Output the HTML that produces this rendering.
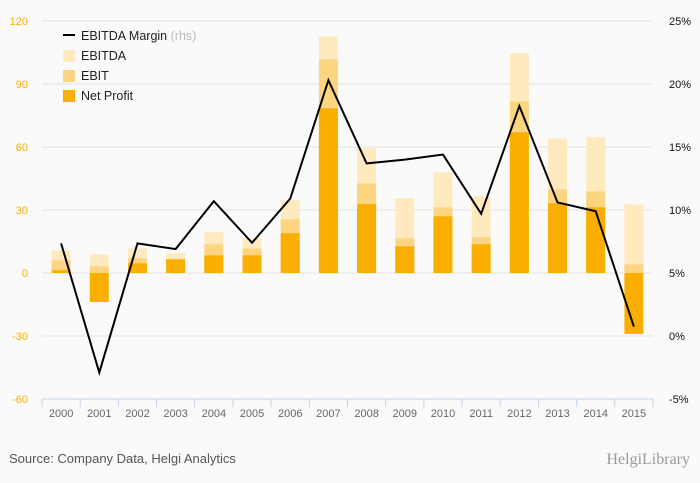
<!DOCTYPE html>
<html><head><meta charset="utf-8"><style>
body{margin:0;background:#fafafa;}
svg{display:block;font-family:"Liberation Sans",sans-serif;}
</style></head><body>
<svg id="chart" width="700" height="483">
<rect width="700" height="483" fill="#fafafa"/>
<g id="grid"></g><g id="bars"></g><g id="line"></g><g id="axes"></g>
<g font-size="12.5" fill="#222">
<line x1="63" y1="35" x2="75" y2="35" stroke="#000" stroke-width="2"/>
<text x="81" y="40">EBITDA Margin <tspan fill="#bbb">(rhs)</tspan></text>
<rect x="63" y="50" width="12" height="12" fill="#ffeabf"/><text x="81" y="60">EBITDA</text>
<rect x="63" y="70" width="12" height="12" fill="#fcd580"/><text x="81" y="80">EBIT</text>
<rect x="63" y="90" width="12" height="12" fill="#f9ae00"/><text x="81" y="100">Net Profit</text>
</g>
<text x="9" y="463" font-size="13" fill="#555">Source: Company Data, Helgi Analytics</text>
<text x="690" y="464" font-size="16" fill="#999" text-anchor="end" font-family="Liberation Serif,serif">HelgiLibrary</text>
</svg>
<script>
const years=["2000","2001","2002","2003","2004","2005","2006","2007","2008","2009","2010","2011","2012","2013","2014","2015"];
const ebitda=[10.8,8.9,11.7,9.4,19.4,16.5,34.6,112.7,59.4,35.6,47.9,36.5,104.6,64.1,64.6,32.7];
const ebit=[6,3.2,7,6.5,13.7,11.7,25.6,101.7,42.7,16.5,31.3,17,81.7,39.8,38.9,4.1];
const netProfit=[1.3,-13.8,4.6,6.5,8.4,8.4,18.9,78.4,32.9,12.7,27,13.7,67,33.2,31.3,-29];
const margin=[7.35,-2.9,7.35,6.9,10.7,7.4,10.9,20.3,13.7,14.0,14.4,9.7,18.25,10.6,9.9,0.74];
const leftTicks=[120,90,60,30,0,-30,-60];
const rightTicks=[25,20,15,10,5,0,-5];
const NS="http://www.w3.org/2000/svg";
const X0=42,X1=653,Y0=21,YB=399;
const step=(X1-X0)/years.length;
const xc=i=>X0+step*(i+0.5);
const yL=v=>Y0+(120-v)*(YB-Y0)/180;
const yR=v=>Y0+(25-v)*(YB-Y0)/30;
function mk(t,a,p){const e=document.createElementNS(NS,t);for(const k in a)e.setAttribute(k,a[k]);p.appendChild(e);return e;}
const g=document.getElementById('grid'),b=document.getElementById('bars'),l=document.getElementById('line'),ax=document.getElementById('axes');
leftTicks.forEach(v=>{
 const y=yL(v);
 if(v!==-60){const ln=mk('line',{x1:X0,x2:X1,y1:y,y2:y,stroke:'#e2e2e2'},g);
 
 }
 const t=mk('text',{x:28,y:y+4,'text-anchor':'end','font-size':11,fill:'#f9ae00'},ax);t.textContent=v;
 
 
});
rightTicks.forEach(v=>{
 const t=mk('text',{x:669,y:yR(v)+4,'font-size':11,fill:'#111'},ax);t.textContent=v+'%';
 
 
});
mk('line',{x1:X0,x2:X1,y1:YB,y2:YB,stroke:'#c5d3ea'},ax);
for(let i=0;i<=years.length;i++)mk('line',{x1:X0+step*i,x2:X0+step*i,y1:YB,y2:YB+8,stroke:'#c5d3ea'},ax);
years.forEach((yr,i)=>{
 const t=mk('text',{x:xc(i),y:417,'text-anchor':'middle','font-size':11,fill:'#666'},ax);t.textContent=yr;
 
 
 [[ebitda,'#ffeabf','bar-ebitda'],[ebit,'#fcd580','bar-ebit'],[netProfit,'#f9ae00','bar-net-profit']].forEach(([arr,c,n])=>{
  const v=arr[i],y0=yL(0),y1=yL(v);
  const r=mk('rect',{x:xc(i)-9.5,width:19,y:Math.min(y0,y1),height:Math.abs(y1-y0),fill:c},b);
  
  
 });
});
const p=mk('polyline',{points:margin.map((v,i)=>xc(i)+','+yR(v)).join(' '),fill:'none',stroke:'#000','stroke-width':2},l);


</script>
</body></html>
